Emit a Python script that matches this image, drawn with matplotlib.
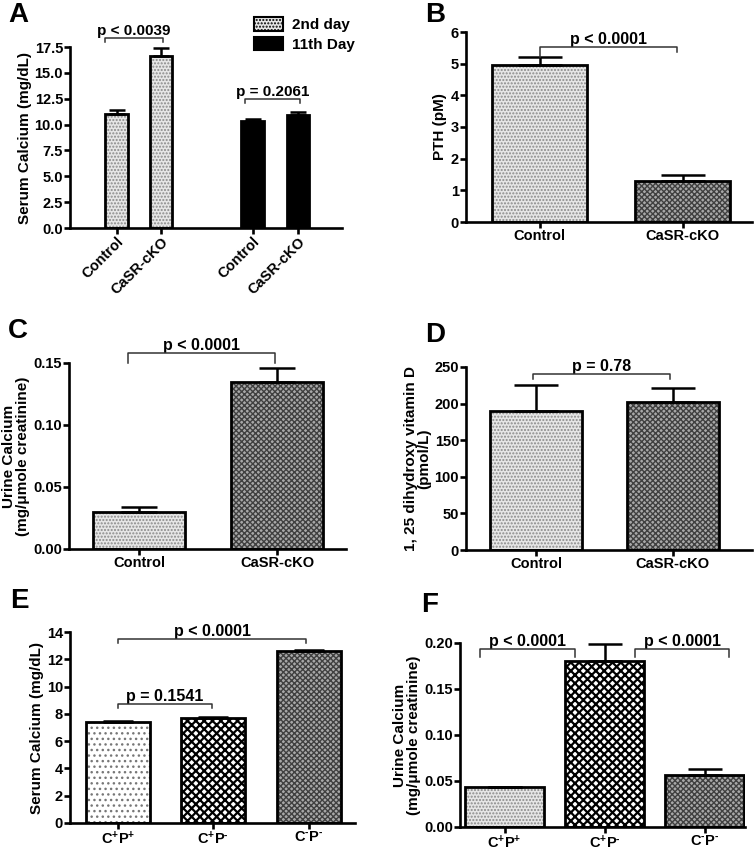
import numpy as np
import matplotlib
matplotlib.use('Agg')
import matplotlib.pyplot as plt
from matplotlib.patches import Patch

plt.rcParams['font.family'] = ['Liberation Sans', 'DejaVu Sans']
plt.rcParams['font.weight'] = 'bold'
plt.rcParams['mathtext.fontset'] = 'custom'
plt.rcParams['mathtext.rm'] = 'Liberation Sans:bold'
plt.rcParams['mathtext.it'] = 'Liberation Sans:bold'
plt.rcParams['mathtext.bf'] = 'Liberation Sans:bold'
plt.rcParams['hatch.linewidth'] = 1.0

# ---- data ----
# A: serum calcium, 2nd day vs 11th day
a_groups = ['Control', 'CaSR-cKO', 'Control', 'CaSR-cKO']
a_pos = [0, 1, 3.07, 4.09]
a_vals = [11.05, 16.6, 10.3, 10.95]
a_err = [0.4, 0.8, 0.25, 0.3]

# B: PTH
b_groups = ['Control', 'CaSR-cKO']
b_vals = [4.95, 1.28]
b_err = [0.25, 0.22]

# C: urine calcium
c_groups = ['Control', 'CaSR-cKO']
c_vals = [0.030, 0.135]
c_err = [0.004, 0.011]

# D: 1,25 dihydroxy vitamin D
d_groups = ['Control', 'CaSR-cKO']
d_vals = [190, 202]
d_err = [36, 19]

# E: serum calcium, three genotypes
e_groups = ['C$^{+}$P$^{+}$', 'C$^{+}$P$^{\u2010}$', 'C$^{\u2010}$P$^{\u2010}$']
e_vals = [7.4, 7.7, 12.6]
e_err = [0.05, 0.1, 0.1]

# F: urine calcium, three genotypes
f_groups = e_groups
f_vals = [0.043, 0.180, 0.057]
f_err = [0.001, 0.019, 0.006]

# fill styles (face, hatch, hatch colour, hatch width)
LIGHT = ('#e6e6e6', '.....', '#8a8a8a', 1.0)
DARK = ('#a8a8a8', 'xxxxxx', '#404040', 1.0)
BLACK = ('black', None, 'black', 1.0)
SPARSE = ('white', '...', '#777777', 1.0)
CROSS = ('white', 'xxxx', 'black', 1.6)

W, H = 754, 850
fig = plt.figure(figsize=(W / 100, H / 100), dpi=100)


def add_ax(x0, x1, ybot, ytop):
    # pixel box -> figure fraction
    return fig.add_axes([x0 / W, 1 - ybot / H, (x1 - x0) / W, (ybot - ytop) / H])


def style(ax):
    for s in ['top', 'right']:
        ax.spines[s].set_visible(False)
    for s in ['left', 'bottom']:
        ax.spines[s].set_linewidth(1.9)
    ax.tick_params(width=1.9, length=4, labelsize=10.5, pad=1)
    for lab in ax.get_yticklabels():
        lab.set_fontweight('bold')


def bars(ax, xs, vals, errs, styles, width, capsize):
    for x, v, e, st in zip(xs, vals, errs, styles):
        face, hatch, hc, hw = st
        b = ax.bar(x, v, width, color=face, edgecolor=hc, hatch=hatch, linewidth=0, zorder=2)
        if hasattr(b[0], 'set_hatch_linewidth'):
            b[0].set_hatch_linewidth(hw)
        ax.bar(x, v, width, fill=False, edgecolor='black', linewidth=2, zorder=3)
        ax.errorbar(x, v, yerr=[[0], [e]], fmt='none', ecolor='black', elinewidth=1.8,
                    capsize=capsize, capthick=1.8, zorder=4)


def bracket(ax, x0, x1, y, yl, yr, text, fs=11.5):
    ax.plot([x0, x0, x1, x1], [yl, y, y, yr], color='#333333', lw=1.1, clip_on=False, zorder=5)
    ax.text((x0 + x1) / 2, y, text, ha='center', va='bottom', fontsize=fs,
            fontweight='bold', clip_on=False)


def panel_label(x, y, s):
    fig.text(x / W, 1 - y / H, s, fontsize=20, fontweight='bold', va='top', ha='left')


# ---- A ----
ax = add_ax(70, 342, 228, 47)
bars(ax, a_pos, a_vals, a_err, [LIGHT, LIGHT, BLACK, BLACK], 0.5, 6)
ax.set_xlim(-1.05, 5.09)
ax.set_ylim(0, 17.5)
ax.set_yticks(np.arange(0, 17.6, 2.5))
ax.set_yticklabels(['%.1f' % t for t in np.arange(0, 17.6, 2.5)])
ax.set_xticks(a_pos)
ax.set_xticklabels(a_groups, rotation=45, ha='right', rotation_mode='anchor', fontsize=10.5)
style(ax)
ax.set_ylabel('Serum Calcium (mg/dL)', fontsize=11, fontweight='bold', labelpad=2)
bracket(ax, -0.25, 1.05, 18.4, 18.0, 18.0, 'p < 0.0039', fs=11)
bracket(ax, 2.89, 4.14, 12.5, 12.1, 12.1, 'p = 0.2061', fs=11)
leg = ax.legend(handles=[Patch(facecolor=LIGHT[0], edgecolor=LIGHT[2], hatch=LIGHT[1]),
                         Patch(facecolor='black', edgecolor='black')],
                labels=['2nd day', '11th Day'], loc='upper left', bbox_to_anchor=(0.655, 1.2),
                frameon=False, fontsize=11, handlelength=1.9, handleheight=1.0,
                labelspacing=0.3, handletextpad=0.6, borderaxespad=0)
for t in leg.get_texts():
    t.set_fontweight('bold')
for p in leg.get_patches():
    p.set_linewidth(1.5)
    p.set_edgecolor('black')
panel_label(8, 2, 'A')

# ---- B ----
ax = add_ax(466, 752, 222, 32)
bars(ax, [0, 1], b_vals, b_err, [LIGHT, DARK], 0.66, 16)
ax.set_xlim(-0.514, 1.486)
ax.set_ylim(0, 6)
ax.set_yticks(range(0, 7))
ax.set_xticks([0, 1])
ax.set_xticklabels(b_groups, fontsize=11.5)
style(ax)
ax.set_ylabel('PTH (pM)', fontsize=11, fontweight='bold', labelpad=3)
bracket(ax, 0, 0.96, 5.52, 5.2, 5.36, 'p < 0.0001')
panel_label(425, 2, 'B')

# ---- C ----
ax = add_ax(69, 346, 549, 363)
bars(ax, [0, 1], c_vals, c_err, [LIGHT, DARK], 0.67, 13)
ax.set_xlim(-0.507, 1.5)
ax.set_ylim(0, 0.15)
ax.set_yticks([0, 0.05, 0.10, 0.15])
ax.set_yticklabels(['0.00', '0.05', '0.10', '0.15'])
ax.set_xticks([0, 1])
ax.set_xticklabels(c_groups, fontsize=11.5)
style(ax)
ax.set_ylabel('Urine Calcium\n(mg/\u03bcmole creatinine)', fontsize=11, fontweight='bold',
              labelpad=2, linespacing=1.0)
bracket(ax, -0.08, 0.986, 0.158, 0.15, 0.15, 'p < 0.0001')
panel_label(8, 318, 'C')

# ---- D ----
ax = add_ax(466, 752, 550, 367)
bars(ax, [0, 1], d_vals, d_err, [LIGHT, DARK], 0.67, 16)
ax.set_xlim(-0.51, 1.577)
ax.set_ylim(0, 250)
ax.set_yticks(range(0, 251, 50))
ax.set_xticks([0, 1])
ax.set_xticklabels(d_groups, fontsize=11.5)
style(ax)
ax.set_ylabel('1, 25 dihydroxy vitamin D\n(pmol/L)', fontsize=11, fontweight='bold',
              labelpad=2, linespacing=1.0)
bracket(ax, -0.02, 0.98, 241, 233, 233, 'p = 0.78')
panel_label(425, 322, 'D')

# ---- E ----
ax = add_ax(70, 355, 823, 632)
bars(ax, [0, 1, 2], e_vals, e_err, [SPARSE, CROSS, DARK], 0.67, 11)
ax.set_xlim(-0.5, 2.48)
ax.set_ylim(0, 14)
ax.set_yticks(range(0, 15, 2))
ax.set_xticks([0, 1, 2])
ax.set_xticklabels(e_groups, fontsize=11.5)
style(ax)
ax.set_ylabel('Serum Calcium (mg/dL)', fontsize=11, fontweight='bold', labelpad=2)
bracket(ax, 0, 1.97, 13.5, 13.2, 13.2, 'p < 0.0001')
bracket(ax, 0, 0.98, 8.7, 8.4, 8.4, 'p = 0.1541')
panel_label(10, 588, 'E')

# ---- F ----
ax = add_ax(460, 745, 827, 643)
bars(ax, [0, 1, 2], f_vals, f_err, [LIGHT, CROSS, DARK], 0.79, 12)
ax.set_xlim(-0.445, 2.4)
ax.set_ylim(0, 0.20)
ax.set_yticks([0, 0.05, 0.10, 0.15, 0.20])
ax.set_yticklabels(['0.00', '0.05', '0.10', '0.15', '0.20'])
ax.set_xticks([0, 1, 2])
ax.set_xticklabels(f_groups, fontsize=11.5)
style(ax)
ax.set_ylabel('Urine Calcium\n(mg/\u03bcmole creatinine)', fontsize=11, fontweight='bold',
              labelpad=2, linespacing=1.0)
bracket(ax, -0.245, 0.705, 0.193, 0.185, 0.185, 'p < 0.0001')
bracket(ax, 1.305, 2.245, 0.193, 0.185, 0.185, 'p < 0.0001')
panel_label(421, 592, 'F')

fig.savefig('out.png', dpi=100)
